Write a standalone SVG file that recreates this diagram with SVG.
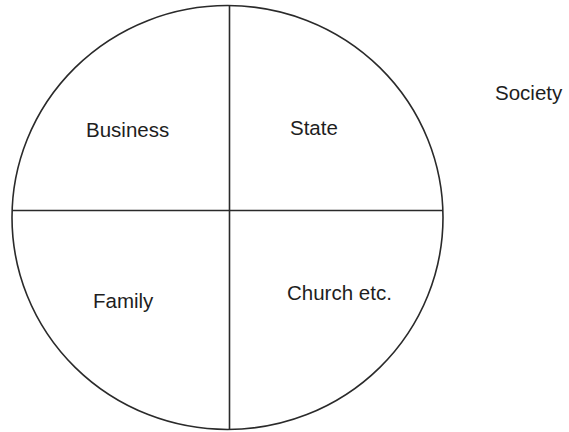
<svg xmlns="http://www.w3.org/2000/svg" width="569" height="432" viewBox="0 0 569 432">
<style>
.l{stroke:#2a2a2a;stroke-width:1.6;fill:none}
text{font-family:"Liberation Sans",Arial,sans-serif;font-size:20.5px;fill:#1e1e1e}
</style>
<rect width="569" height="432" fill="#fff"/>
<g id="circle"><ellipse class="l" cx="227.5" cy="217.5" rx="215.5" ry="212"/></g>
<g id="connectors">
<line class="l" x1="12" y1="210.5" x2="443" y2="210.5"/>
<line class="l" x1="229.5" y1="5" x2="229.5" y2="430"/>
</g>
<g id="business"><text x="86" y="137">Business</text></g>
<g id="state"><text x="290" y="135">State</text></g>
<g id="family"><text x="93" y="308">Family</text></g>
<g id="church"><text x="287" y="300">Church etc.</text></g>
<g id="society"><text x="495" y="100">Society</text></g>
</svg>
